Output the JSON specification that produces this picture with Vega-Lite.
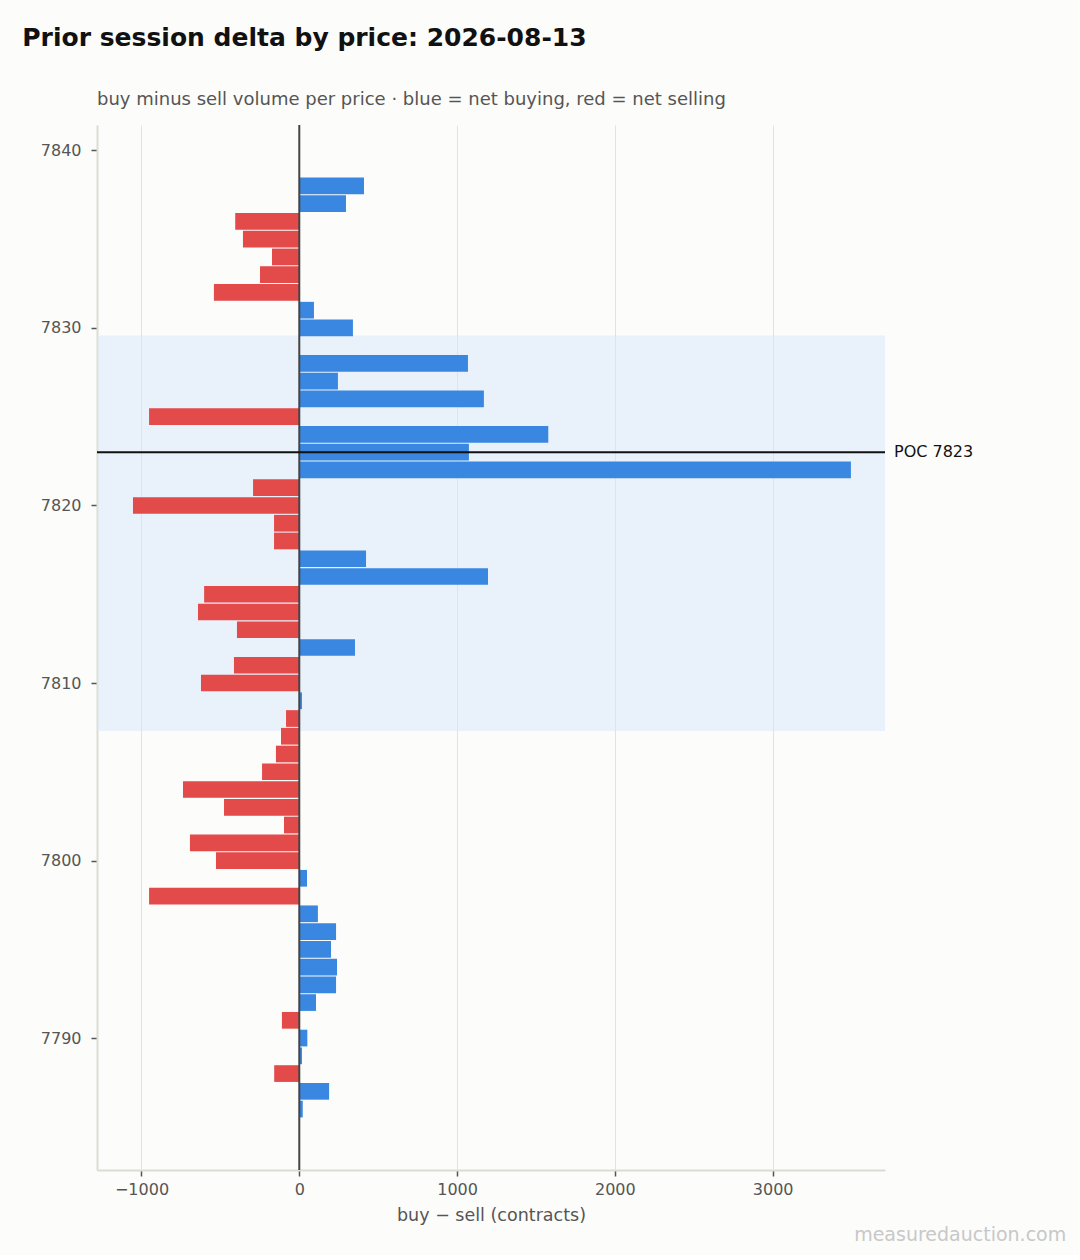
{
  "$schema": "https://vega.github.io/schema/vega-lite/v6.json",
  "background": "#fcfcfa",
  "padding": {"left": 22, "top": 26, "right": 12, "bottom": 10},
  "autosize": {"type": "pad"},
  "config": {
    "font": "DejaVu Sans",
    "view": {"stroke": null},
    "title": {"font": "DejaVu Sans"}
  },
  "title": {
    "text": "measuredauction.com",
    "orient": "bottom",
    "anchor": "end",
    "fontSize": 19,
    "fontWeight": "normal",
    "color": "#c8c8c8",
    "dx": 93,
    "offset": 2
  },
  "vconcat": [
    {
      "title": {
        "text": "Prior session delta by price: 2026-08-13",
        "anchor": "start",
        "fontSize": 25,
        "fontWeight": "bold",
        "color": "#111111",
        "dx": -18,
        "offset": 40
      },
      "vconcat": [
        {
          "title": {
            "text": "buy minus sell volume per price · blue = net buying, red = net selling",
            "anchor": "start",
            "frame": "group",
            "fontSize": 18,
            "fontWeight": "normal",
            "color": "#555555",
            "offset": 15
          },
          "width": 788,
          "height": 1045,
          "layer": [
            {
              "data": {"values": [{"va_low": 7807.3, "va_high": 7829.57}]},
              "mark": {"type": "rect", "color": "#d6e6fb", "opacity": 0.5},
              "encoding": {
                "y": {"field": "va_low", "type": "quantitative"},
                "y2": {"field": "va_high"}
              }
            },
            {
              "data": {
                "values": [
                  {"price": 7838, "delta": 410},
                  {"price": 7837, "delta": 296},
                  {"price": 7836, "delta": -406},
                  {"price": 7835, "delta": -357},
                  {"price": 7834, "delta": -173},
                  {"price": 7833, "delta": -249},
                  {"price": 7832, "delta": -541},
                  {"price": 7831, "delta": 93},
                  {"price": 7830, "delta": 340},
                  {"price": 7828, "delta": 1069},
                  {"price": 7827, "delta": 245},
                  {"price": 7826, "delta": 1170},
                  {"price": 7825, "delta": -952},
                  {"price": 7824, "delta": 1578},
                  {"price": 7823, "delta": 1075},
                  {"price": 7822, "delta": 3496},
                  {"price": 7821, "delta": -293},
                  {"price": 7820, "delta": -1054},
                  {"price": 7819, "delta": -160},
                  {"price": 7818, "delta": -160},
                  {"price": 7817, "delta": 423},
                  {"price": 7816, "delta": 1196},
                  {"price": 7815, "delta": -603},
                  {"price": 7814, "delta": -642},
                  {"price": 7813, "delta": -395},
                  {"price": 7812, "delta": 353},
                  {"price": 7811, "delta": -414},
                  {"price": 7810, "delta": -623},
                  {"price": 7809, "delta": 17},
                  {"price": 7808, "delta": -84},
                  {"price": 7807, "delta": -116},
                  {"price": 7806, "delta": -148},
                  {"price": 7805, "delta": -236},
                  {"price": 7804, "delta": -737},
                  {"price": 7803, "delta": -477},
                  {"price": 7802, "delta": -97},
                  {"price": 7801, "delta": -693},
                  {"price": 7800, "delta": -528},
                  {"price": 7799, "delta": 49},
                  {"price": 7798, "delta": -952},
                  {"price": 7797, "delta": 118},
                  {"price": 7796, "delta": 233},
                  {"price": 7795, "delta": 201},
                  {"price": 7794, "delta": 239},
                  {"price": 7793, "delta": 233},
                  {"price": 7792, "delta": 106},
                  {"price": 7791, "delta": -110},
                  {"price": 7790, "delta": 51},
                  {"price": 7789, "delta": 17},
                  {"price": 7788, "delta": -159},
                  {"price": 7787, "delta": 189},
                  {"price": 7786, "delta": 22}
                ]
              },
              "mark": {"type": "bar", "orient": "horizontal", "height": 16.7},
              "encoding": {
                "y": {
                  "field": "price",
                  "type": "quantitative",
                  "scale": {"domain": [7782.85, 7841.15], "nice": false, "zero": false},
                  "axis": {
                    "title": null,
                    "values": [7790, 7800, 7810, 7820, 7830, 7840],
                    "format": "d",
                    "grid": false,
                    "domainColor": "#dcdcd4",
                    "domainWidth": 2,
                    "tickColor": "#555555",
                    "tickSize": 6,
                    "tickWidth": 1.5,
                    "labelColor": "#555555",
                    "labelFontSize": 16,
                    "labelPadding": 10
                  }
                },
                "x": {
                  "field": "delta",
                  "type": "quantitative",
                  "scale": {"domain": [-1282, 3712], "nice": false},
                  "axis": {
                    "title": "buy − sell (contracts)",
                    "values": [-1000, 0, 1000, 2000, 3000],
                    "format": "d",
                    "grid": true,
                    "gridColor": "#e2e2e2",
                    "domainColor": "#dcdcd4",
                    "domainWidth": 2,
                    "tickColor": "#555555",
                    "tickSize": 6,
                    "tickWidth": 1.5,
                    "labelColor": "#555555",
                    "labelFontSize": 16,
                    "labelPadding": 5,
                    "titleColor": "#555555",
                    "titleFontSize": 17.5,
                    "titleFontWeight": "normal",
                    "titlePadding": 9
                  }
                },
                "color": {
                  "condition": {"test": "datum.delta > 0", "value": "#3a87e2"},
                  "value": "#e34a4a"
                }
              }
            },
            {
              "data": {"values": [{"zero": 0}]},
              "mark": {"type": "rule", "color": "#444444", "strokeWidth": 2},
              "encoding": {"x": {"field": "zero", "type": "quantitative"}}
            },
            {
              "data": {"values": [{"poc": 7823, "label": "POC 7823", "edge": 3712}]},
              "layer": [
                {
                  "mark": {"type": "rule", "color": "#111111", "strokeWidth": 2},
                  "encoding": {"y": {"field": "poc", "type": "quantitative"}}
                },
                {
                  "mark": {"type": "text", "align": "left", "baseline": "middle", "dx": 9, "fontSize": 16, "color": "#111111", "clip": false},
                  "encoding": {
                    "y": {"field": "poc", "type": "quantitative"},
                    "x": {"field": "edge", "type": "quantitative"},
                    "text": {"field": "label"}
                  }
                }
              ]
            }
          ]
        }
      ]
    }
  ]
}
